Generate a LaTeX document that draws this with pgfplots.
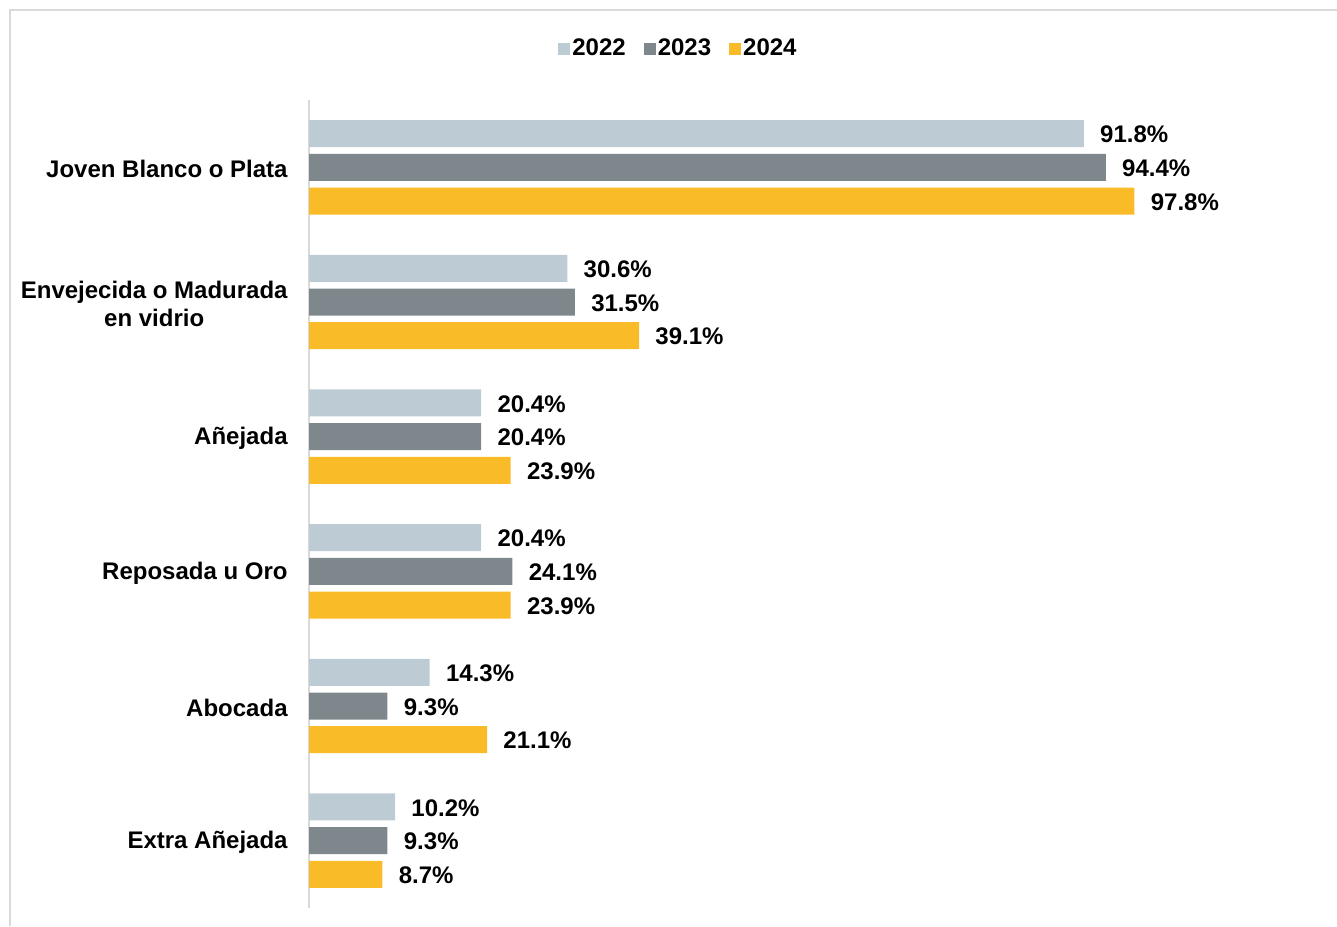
\documentclass[border=0pt]{standalone}
\usepackage{fontspec}
\setmainfont{Liberation Sans}
\usepackage{pgfplots}
\pgfplotsset{compat=1.18}
\definecolor{c22}{HTML}{BDCCD4}
\definecolor{c23}{HTML}{7E878C}
\definecolor{c24}{HTML}{F9BC28}
\definecolor{frame}{HTML}{D9D9D9}
\begin{document}
\begin{tikzpicture}
\draw[frame,line width=1pt] (5pt,0pt) -- (5pt,458pt) -- (668.5pt,458pt);
\begin{axis}[
  at={(154.5pt,9pt)}, anchor=south west,
  scale only axis, width=514pt, height=404pt,
  xbar, bar width=13.5pt,
  xmin=0, xmax=121.8, ymin=-0.5, ymax=5.5,
  axis x line=none,
  axis y line=left,
  y axis line style={-, draw=frame, line width=1pt},
  ytick={0,1,2,3,4,5},
  yticklabels={Extra Añejada, Abocada, Reposada u Oro, Añejada, {Envejecida o Madurada\\en vidrio}, Joven Blanco o Plata},
  major tick length=0pt,
  yticklabel style={font=\fontsize{12}{14}\selectfont\bfseries, align=center, inner sep=0pt, xshift=-10.5pt, yshift=-0.8pt},
  point meta=x,
  nodes near coords={\pgfmathprintnumber[fixed,fixed zerofill,precision=1]{\pgfplotspointmeta}\%},
  nodes near coords style={font=\fontsize{12}{14}\selectfont\bfseries, anchor=west, inner sep=0pt, xshift=8pt, yshift=-0.5pt, text=black},
  /pgf/number format/assume math mode=true,
  legend columns=3,
  legend style={at={(rel axis cs:0.3594,1.0630)}, anchor=center, draw=none, fill=none, inner sep=0pt,
    font=\fontsize{12}{14}\selectfont\bfseries,
    /tikz/every even column/.append style={column sep=8pt},
    nodes={inner sep=1pt}},
  legend image code/.code={\path[#1] (-2pt,-3.2pt) rectangle (4pt,3.2pt);},
]
\addplot[fill=c22, draw=none, bar shift=16.85pt] coordinates {(10.2,0) (14.3,1) (20.4,2) (20.4,3) (30.6,4) (91.8,5)};
\addplot[fill=c23, draw=none, bar shift=0pt] coordinates {(9.3,0) (9.3,1) (24.1,2) (20.4,3) (31.5,4) (94.4,5)};
\addplot[fill=c24, draw=none, bar shift=-16.85pt] coordinates {(8.7,0) (21.1,1) (23.9,2) (23.9,3) (39.1,4) (97.8,5)};
\legend{2022,2023,2024}
\end{axis}
\pgfresetboundingbox
\useasboundingbox (0pt,0pt) rectangle (668.5pt,463pt);
\end{tikzpicture}
\end{document}
